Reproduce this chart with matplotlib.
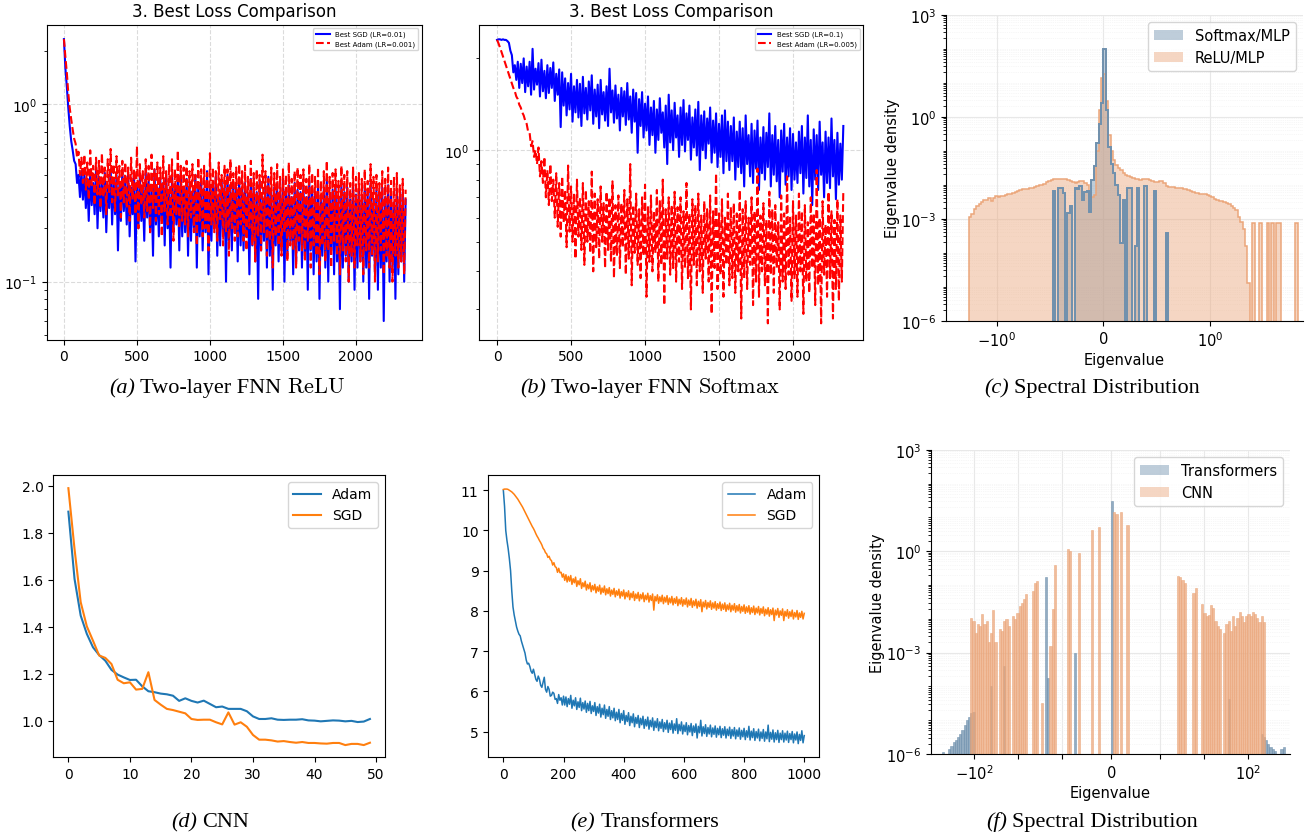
import numpy as np
import matplotlib
matplotlib.use("Agg")
import matplotlib.pyplot as plt
from matplotlib.patches import Patch
from matplotlib.ticker import LogLocator, NullFormatter, NullLocator
from matplotlib.colors import to_rgb

# ---------------- data ----------------
# (a)/(b): noisy loss read every 10 steps. "hi" = upper excursions at steps 0,20,40,...
# "lo" = lower excursions at steps 10,30,50,...
steps_ab = np.arange(0, 2341, 10)
relu_sgd_hi = [2.33, 1.25, 0.75, 0.55, 0.46, 0.40, 0.42,
               0.40, 0.38, 0.42, 0.36, 0.44, 0.39, 0.37, 0.41, 0.35, 0.43, 0.38, 0.40, 0.36, 0.42,
               0.37, 0.40, 0.34, 0.42, 0.36, 0.39, 0.33, 0.41, 0.37, 0.35, 0.43, 0.34, 0.38, 0.36, 0.40, 0.33, 0.39, 0.35, 0.37, 0.41,
               0.34, 0.38, 0.36, 0.32, 0.40, 0.35, 0.37, 0.33, 0.42, 0.34, 0.36, 0.39, 0.31, 0.37, 0.35, 0.40, 0.33, 0.36, 0.34, 0.38,
               0.33, 0.36, 0.31, 0.38, 0.34, 0.32, 0.37, 0.30, 0.35, 0.39, 0.32, 0.34, 0.36, 0.31, 0.38, 0.33, 0.35, 0.30, 0.36, 0.33,
               0.32, 0.35, 0.30, 0.37, 0.33, 0.31, 0.36, 0.29, 0.34, 0.38, 0.31, 0.33, 0.35, 0.30, 0.36, 0.32, 0.34, 0.29, 0.35, 0.31,
               0.33, 0.30, 0.35, 0.31, 0.36, 0.29, 0.33, 0.32, 0.34, 0.30, 0.35, 0.31, 0.28, 0.33, 0.30, 0.32, 0.29]
relu_sgd_lo = [1.6, 0.95, 0.62, 0.48, 0.36, 0.30, 0.29,
               0.26, 0.22, 0.27, 0.24, 0.20, 0.25, 0.23, 0.19, 0.26, 0.21, 0.24, 0.15, 0.22, 0.25,
               0.21, 0.18, 0.24, 0.13, 0.20, 0.22, 0.17, 0.23, 0.19, 0.14, 0.21, 0.18, 0.22, 0.16, 0.20, 0.12, 0.19, 0.21, 0.15, 0.18,
               0.19, 0.14, 0.17, 0.20, 0.12, 0.18, 0.15, 0.19, 0.11, 0.17, 0.20, 0.14, 0.16, 0.18, 0.10, 0.17, 0.15, 0.19, 0.13, 0.16,
               0.15, 0.18, 0.11, 0.16, 0.13, 0.08, 0.15, 0.17, 0.12, 0.14, 0.09, 0.16, 0.13, 0.15, 0.10, 0.14, 0.17, 0.11, 0.13, 0.15,
               0.12, 0.14, 0.09, 0.15, 0.11, 0.13, 0.08, 0.14, 0.12, 0.10, 0.15, 0.11, 0.13, 0.07, 0.12, 0.14, 0.10, 0.13, 0.09, 0.12,
               0.13, 0.10, 0.12, 0.08, 0.14, 0.11, 0.09, 0.12, 0.06, 0.13, 0.10, 0.12, 0.08, 0.11, 0.13, 0.10]
relu_adam_hi = [2.33, 1.5, 0.95, 0.72, 0.60, 0.54, 0.50,
                0.52, 0.47, 0.55, 0.45, 0.50, 0.48, 0.53, 0.44, 0.49, 0.56, 0.46, 0.51, 0.45, 0.48,
                0.47, 0.44, 0.50, 0.43, 0.58, 0.46, 0.42, 0.49, 0.45, 0.52, 0.43, 0.47, 0.44, 0.51, 0.42, 0.46, 0.49, 0.43, 0.55, 0.45,
                0.44, 0.48, 0.42, 0.46, 0.40, 0.50, 0.43, 0.45, 0.41, 0.53, 0.44, 0.42, 0.47, 0.40, 0.45, 0.43, 0.49, 0.41, 0.44, 0.46,
                0.42, 0.45, 0.39, 0.48, 0.41, 0.43, 0.40, 0.52, 0.42, 0.38, 0.44, 0.41, 0.46, 0.39, 0.43, 0.40, 0.47, 0.38, 0.42, 0.44,
                0.40, 0.43, 0.38, 0.46, 0.41, 0.39, 0.44, 0.37, 0.42, 0.48, 0.39, 0.41, 0.43, 0.37, 0.45, 0.40, 0.42, 0.36, 0.44, 0.39,
                0.41, 0.38, 0.43, 0.37, 0.46, 0.39, 0.40, 0.36, 0.42, 0.38, 0.44, 0.37, 0.39, 0.41, 0.35, 0.38, 0.33]
relu_adam_lo = [1.85, 1.15, 0.82, 0.64, 0.50, 0.40, 0.36,
                0.33, 0.29, 0.35, 0.27, 0.31, 0.26, 0.30, 0.24, 0.32, 0.28, 0.25, 0.30, 0.23, 0.28,
                0.26, 0.22, 0.29, 0.24, 0.20, 0.27, 0.23, 0.25, 0.19, 0.26, 0.22, 0.24, 0.18, 0.25, 0.21, 0.23, 0.17, 0.24, 0.20, 0.22,
                0.21, 0.18, 0.23, 0.19, 0.16, 0.22, 0.18, 0.20, 0.15, 0.21, 0.19, 0.17, 0.22, 0.16, 0.19, 0.14, 0.20, 0.17, 0.18, 0.21,
                0.17, 0.15, 0.20, 0.16, 0.13, 0.18, 0.15, 0.19, 0.14, 0.17, 0.12, 0.18, 0.16, 0.14, 0.19, 0.13, 0.16, 0.15, 0.12, 0.17,
                0.15, 0.13, 0.17, 0.12, 0.16, 0.14, 0.11, 0.16, 0.13, 0.15, 0.12, 0.17, 0.14, 0.11, 0.15, 0.13, 0.10, 0.14, 0.12, 0.16,
                0.13, 0.11, 0.15, 0.12, 0.14, 0.10, 0.13, 0.15, 0.11, 0.14, 0.12, 0.10, 0.14, 0.12, 0.13, 0.11]

soft_sgd_hi = [2.30, 2.31, 2.31, 2.30, 2.25,
               2.05, 1.90, 1.95,
               1.92, 2.00, 1.88, 1.95, 2.15, 1.85, 1.93, 1.98, 1.82, 1.90, 1.86, 1.94, 1.78, 1.84, 1.80,
               1.72, 1.66, 1.78, 1.62, 1.70, 1.65, 1.74, 1.60, 1.68, 1.76, 1.58, 1.64, 1.70, 1.55, 1.62, 1.85, 1.57, 1.63, 1.52, 1.60,
               1.56, 1.66, 1.50, 1.58, 1.54, 1.47, 1.55,
               1.42, 1.50, 1.38, 1.45, 1.36, 1.48, 1.33, 1.40, 1.52, 1.35, 1.43, 1.30, 1.38, 1.46, 1.32, 1.40, 1.28, 1.36, 1.44, 1.30,
               1.34, 1.27, 1.38, 1.25, 1.32, 1.22, 1.30, 1.35, 1.24,
               1.20, 1.28, 1.15, 1.24, 1.18, 1.30, 1.12, 1.22, 1.16, 1.25, 1.10, 1.19, 1.14, 1.32, 1.12, 1.20, 1.08, 1.16, 1.22, 1.10,
               1.18, 1.13, 1.06,
               1.15, 1.20, 1.10, 1.30, 1.08, 1.17, 1.12, 1.24, 1.06, 1.15, 1.10, 1.27, 1.08, 1.14, 1.05, 1.20]
soft_sgd_lo = [2.31, 2.30, 2.30, 2.28,
               2.12, 1.80, 1.70,
               1.60, 1.66, 1.55, 1.62, 1.52, 1.58, 1.64, 1.50, 1.56, 1.48, 1.54, 1.60, 1.45, 1.52, 1.19,
               1.40, 1.30, 1.36, 1.24, 1.33, 1.28, 1.20, 1.32, 1.26, 1.35, 1.22, 1.29, 1.18, 1.31, 1.25, 1.20, 1.33, 1.23, 1.27, 1.16,
               1.29, 1.21, 1.26, 1.14, 1.24, 0.98, 1.20,
               1.10, 1.16, 1.04, 1.12, 0.98, 1.08, 1.14, 1.02, 0.90, 1.06, 1.00, 1.10, 0.95, 1.04, 0.99, 1.08, 0.93, 1.02, 0.96, 0.86,
               1.00, 0.94, 1.05, 0.91, 0.98, 0.88, 0.95, 0.84, 0.92,
               0.86, 0.92, 0.80, 0.88, 0.84, 0.76, 0.90, 0.82, 0.78, 0.87, 0.74, 0.84, 0.80, 0.88, 0.76, 0.83, 0.79, 0.70, 0.85, 0.77,
               0.82, 0.74, 0.80,
               0.78, 0.84, 0.72, 0.81, 0.76, 0.66, 0.80, 0.74, 0.83, 0.70, 0.78, 0.75, 0.82, 0.69, 0.77, 0.80]
soft_adam_hi = [2.30, 2.17, 2.03, 1.90, 1.77, 1.66, 1.56, 1.47, 1.38, 1.30, 1.22,
                1.14, 1.07, 1.00, 1.02, 0.92, 0.95, 0.86, 0.90, 0.80, 0.84,
                0.78, 0.82, 0.74, 0.89, 0.76, 0.72, 0.80, 0.70, 0.78, 0.74, 0.68, 0.85, 0.72, 0.69, 0.76, 0.67, 0.73, 0.70, 0.79, 0.66,
                0.71, 0.67, 0.74, 0.69, 0.90, 0.66, 0.72, 0.64, 0.70, 0.77, 0.65, 0.71, 0.63, 0.74, 0.68, 0.80, 0.64, 0.70, 0.66, 0.73,
                0.65, 0.70, 0.63, 0.78, 0.62, 0.69, 0.66, 0.72, 0.61, 0.68, 0.64, 0.71, 0.63, 0.84, 0.62, 0.69, 0.60, 0.72, 0.65, 0.67,
                0.62, 0.74, 0.64, 0.68, 0.60, 0.70, 0.63, 0.87, 0.61, 0.67, 0.59, 0.73, 0.64, 0.66, 0.58, 0.71, 0.62, 0.82, 0.60, 0.68,
                0.61, 0.72, 0.63, 0.66, 0.58, 0.70, 0.62, 0.86, 0.60, 0.68, 0.57, 0.73, 0.63, 0.59, 0.69, 0.61, 0.74]
soft_adam_lo = [2.24, 2.10, 1.96, 1.83, 1.71, 1.60, 1.50, 1.41, 1.33, 1.25,
                1.15, 1.03, 0.95, 0.90, 0.82, 0.78, 0.70, 0.66, 0.68, 0.60,
                0.56, 0.52, 0.58, 0.48, 0.54, 0.50, 0.44, 0.52, 0.47, 0.42, 0.50, 0.46, 0.40, 0.48, 0.44, 0.50, 0.41, 0.47, 0.43, 0.38,
                0.45, 0.41, 0.48, 0.39, 0.44, 0.36, 0.46, 0.42, 0.38, 0.45, 0.33, 0.43, 0.40, 0.46, 0.37, 0.42, 0.31, 0.44, 0.39, 0.41,
                0.37, 0.43, 0.35, 0.41, 0.38, 0.30, 0.42, 0.36, 0.40, 0.34, 0.44, 0.37, 0.29, 0.41, 0.35, 0.39, 0.33, 0.42, 0.36, 0.38,
                0.34, 0.40, 0.28, 0.38, 0.35, 0.42, 0.31, 0.37, 0.33, 0.40, 0.36, 0.27, 0.39, 0.34, 0.41, 0.30, 0.37, 0.35, 0.39, 0.32,
                0.38, 0.33, 0.40, 0.29, 0.37, 0.34, 0.41, 0.31, 0.36, 0.27, 0.39, 0.33, 0.38, 0.28, 0.35, 0.32, 0.37]

# (d) CNN loss per epoch
epochs = np.arange(50)
cnn_adam = [1.889, 1.603, 1.447, 1.369, 1.312, 1.279, 1.255, 1.216, 1.196, 1.184,
            1.173, 1.174, 1.146, 1.125, 1.121, 1.115, 1.112, 1.106, 1.084, 1.095,
            1.084, 1.077, 1.085, 1.071, 1.057, 1.060, 1.050, 1.050, 1.050, 1.040,
            1.018, 1.007, 1.007, 1.010, 1.004, 1.003, 1.004, 1.004, 1.006, 1.001,
            1.000, 0.997, 0.999, 1.001, 1.000, 0.997, 0.999, 0.994, 0.996, 1.007]
cnn_sgd = [1.989, 1.730, 1.504, 1.401, 1.340, 1.277, 1.267, 1.241, 1.174, 1.159,
           1.163, 1.132, 1.135, 1.206, 1.088, 1.068, 1.050, 1.045, 1.038, 1.031,
           1.007, 1.003, 1.004, 1.004, 0.993, 0.984, 1.035, 0.983, 0.993, 0.974,
           0.939, 0.919, 0.919, 0.916, 0.911, 0.913, 0.909, 0.906, 0.909, 0.905,
           0.905, 0.903, 0.902, 0.905, 0.905, 0.896, 0.901, 0.901, 0.896, 0.906]

# (e) Transformers loss read every 4 steps: "hi" at steps 0,8,16,... and "lo" at 4,12,20,...
steps_e = np.arange(0, 1001, 4)
tr_adam_hi = [11.0, 10.0, 9.55, 9.0, 8.1, 7.75, 7.5, 7.38, 7.15, 6.95, 6.68, 6.62, 6.45, 6.42, 6.25, 6.30,
              6.10, 6.35, 5.98, 6.05, 5.90, 5.95, 5.82, 5.92, 5.84, 5.88,
              5.86, 5.82, 5.90, 5.78, 5.84, 5.74, 5.83, 5.72, 5.76, 5.70,
              5.75, 5.64, 5.72, 5.62, 5.68, 5.58, 5.66, 5.55, 5.62, 5.52,
              5.58, 5.48, 5.55, 5.45, 5.52, 5.40, 5.47, 5.38, 5.44, 5.35,
              5.40, 5.33, 5.38, 5.30, 5.36, 5.28, 5.34, 5.26, 5.32, 5.24,
              5.30, 5.22, 5.28, 5.21, 5.27, 5.19, 5.32, 5.18, 5.24, 5.16,
              5.22, 5.15, 5.20, 5.14, 5.19, 5.13, 5.28, 5.12, 5.17, 5.10,
              5.16, 5.09, 5.14, 5.08, 5.13, 5.07, 5.12, 5.06, 5.11, 5.05,
              5.10, 5.04, 5.09, 5.03, 5.08, 5.02, 5.13, 5.01, 5.07, 5.00,
              5.06, 4.99, 5.05, 4.99, 5.16, 4.98, 5.04, 4.97, 5.03, 4.96,
              5.02, 4.96, 5.01, 4.95, 5.00, 4.94, 4.99, 4.93, 5.02, 4.90]
tr_adam_lo = [10.6, 9.75, 9.3, 8.5, 7.9, 7.6, 7.42, 7.25, 7.05, 6.78, 6.70, 6.50, 6.55, 6.30, 6.38, 6.15,
              6.22, 6.05, 6.12, 5.88, 5.98, 5.80, 5.70, 5.78, 5.66,
              5.66, 5.62, 5.68, 5.58, 5.64, 5.55, 5.60, 5.52, 5.56, 5.48,
              5.52, 5.45, 5.50, 5.40, 5.46, 5.36, 5.42, 5.33, 5.38, 5.30,
              5.34, 5.27, 5.30, 5.22, 5.28, 5.18, 5.25, 5.15, 5.22, 5.12,
              5.20, 5.10, 5.17, 5.08, 5.14, 5.06, 5.12, 5.03, 5.10, 5.02,
              5.08, 5.00, 5.06, 4.98, 5.05, 4.96, 5.03, 4.95, 5.02, 4.94,
              5.00, 4.92, 4.99, 4.90, 4.98, 4.84, 4.97, 4.89, 4.95, 4.88,
              4.94, 4.87, 4.93, 4.86, 4.92, 4.85, 4.91, 4.84, 4.90, 4.83,
              4.89, 4.82, 4.88, 4.81, 4.87, 4.80, 4.86, 4.79, 4.85, 4.78,
              4.84, 4.77, 4.83, 4.76, 4.82, 4.75, 4.81, 4.74, 4.80, 4.73,
              4.80, 4.74, 4.79, 4.73, 4.80, 4.72, 4.79, 4.70, 4.78, 4.72]
tr_sgd_hi = [11.02, 11.03, 11.02, 10.98, 10.93, 10.86, 10.78, 10.68, 10.58, 10.46, 10.34, 10.22, 10.10,
             9.99, 9.86, 9.75, 9.64, 9.52, 9.42, 9.36, 9.25, 9.20, 9.08, 9.06, 8.96, 8.92,
             8.90, 8.86, 8.88, 8.80, 8.84, 8.75, 8.80, 8.70, 8.74, 8.66,
             8.70, 8.63, 8.66, 8.60, 8.64, 8.57, 8.62, 8.55, 8.58, 8.52,
             8.56, 8.50, 8.54, 8.48, 8.52, 8.46, 8.50, 8.44, 8.48, 8.42,
             8.46, 8.41, 8.45, 8.39, 8.44, 8.38, 8.42, 8.36, 8.40, 8.35,
             8.39, 8.34, 8.38, 8.32, 8.36, 8.31, 8.35, 8.29, 8.33, 8.28,
             8.32, 8.27, 8.31, 8.25, 8.29, 8.24, 8.28, 8.22, 8.26, 8.21,
             8.25, 8.20, 8.23, 8.18, 8.22, 8.17, 8.20, 8.15, 8.19, 8.14,
             8.18, 8.13, 8.16, 8.11, 8.15, 8.10, 8.13, 8.08, 8.12, 8.07,
             8.11, 8.06, 8.10, 8.04, 8.08, 8.03, 8.07, 8.02, 8.06, 8.00,
             8.05, 7.99, 8.03, 7.98, 8.02, 7.96, 8.01, 7.95, 7.99, 7.94]
tr_sgd_lo = [11.03, 11.03, 11.00, 10.96, 10.90, 10.82, 10.73, 10.63, 10.52, 10.40, 10.28, 10.16, 10.05,
             9.92, 9.81, 9.70, 9.56, 9.45, 9.33, 9.28, 9.14, 9.10, 8.96, 8.95, 8.84,
             8.76, 8.72, 8.74, 8.66, 8.70, 8.61, 8.65, 8.56, 8.60, 8.52,
             8.55, 8.48, 8.52, 8.45, 8.49, 8.42, 8.46, 8.40, 8.43, 8.37,
             8.41, 8.35, 8.39, 8.32, 8.37, 8.30, 8.35, 8.28, 8.33, 8.26,
             8.31, 8.25, 8.30, 8.23, 8.28, 8.22, 8.26, 8.02, 8.25, 8.19,
             8.23, 8.18, 8.22, 8.16, 8.20, 8.15, 8.19, 8.13, 8.17, 8.12,
             8.16, 8.10, 8.14, 8.09, 8.13, 8.07, 8.11, 7.98, 8.10, 8.05,
             8.09, 8.04, 8.07, 8.02, 8.06, 8.01, 8.04, 7.99, 8.03, 7.98,
             8.02, 7.97, 8.00, 7.95, 7.99, 7.94, 7.97, 7.92, 7.96, 7.91,
             7.95, 7.90, 7.94, 7.88, 7.92, 7.87, 7.91, 7.76, 7.90, 7.84,
             7.89, 7.76, 7.87, 7.82, 7.86, 7.80, 7.85, 7.79, 7.84, 7.80]

# (c) spectral histogram, log10 density per bin (None = empty bin)
c_bin_start, c_bin_step = -1.40, 0.025      # bin edges in symlog display units
relu_mlp_log = [-2.95, -2.85, -2.70, -2.62, -2.58, -2.52, -2.45, -2.44, -2.40, -2.47,
                -2.38, -2.34, -2.36, -2.33, -2.32, -2.30, -2.27, -2.26, -2.24, -2.22,
                -2.18, -2.15, -2.14, -2.13, -2.12, -2.10, -2.09, -2.08, -2.05, -2.02,
                -2.00, -1.97, -1.93, -1.88, -1.86, -1.84, -1.83, -1.82, -1.82, -1.83,
                -1.84, -1.85, -1.88, -1.92, -1.95, -1.93, -1.90, -1.90, -1.95, -2.02,
                -2.22, -2.36, -2.30, -1.00, 0.20, 1.15, 1.25, 0.45, -0.55, -1.00,
                -1.28, -1.42, -1.50, -1.58, -1.65, -1.70, -1.74, -1.78, -1.80, -1.82,
                -1.84, -1.85, -1.83, -1.82, -1.84, -1.86, -1.90, -1.93, -1.93, -1.88,
                -1.88, -1.95, -2.05, -2.07, -2.08, -2.08, -2.09, -2.10, -2.11, -2.13,
                -2.14, -2.16, -2.18, -2.20, -2.23, -2.24, -2.26, -2.27, -2.28, -2.30,
                -2.33, -2.37, -2.41, -2.44, -2.47, -2.49, -2.52, -2.55, -2.58, -2.62,
                -2.68, -2.73, -2.95, -3.10, -3.30, -3.80, -4.90, None, -3.12, None,
                None, -3.12, None, None, -3.12, None, -3.12, None, -3.12, -3.12,
                None, None, None, None, None, None, -3.12]
softmax_mlp_log = [None] * 35 + [
    -2.19, None, -2.09, -2.09, -2.24, None, -2.83, -2.63, None, -2.09,
    -2.14, -2.04, -2.44, -2.20, -2.19, -2.80, -1.85, -1.45, -0.77, -0.20,
    0.40, 1.98, 0.20, -0.90, -1.40, -1.65, -2.00, -2.30, -3.70, -2.44,
    None, -2.09, -2.09, None, -3.80, -2.09, None, None, -2.04, None,
    None, None, -2.19, None, None, None, None, -3.42] + [None] * 54

# (f) spectral histogram
f_bin_start, f_bin_step = -3.85, 0.05
transformers_log = [-5.95, None, None, -5.85, -5.75, -5.65, -5.60, -5.50, -5.40, -5.30,
                    -5.15, -5.00, -4.90, -4.80, -4.75] + [None] * 7 + [-3.98] + [None] * 5 + [-3.40] \
    + [None] * 18 + [-0.76, -3.74] + [None] * 11 + [-3.00] + [None] * 16 + [1.47] + [None] * 52 \
    + [-4.38] + [None] * 14 + [-5.40, -5.50, -5.60, -5.70, -5.80, -5.85, -5.90, None, None, -5.85, -5.80]
cnn_log = [None] * 13 + [
    -1.97, -2.06, -2.41, -2.16, -2.21, -1.87, -2.16, -2.06, -2.70, -2.41,
    -1.74, -2.70, None, -2.31, -2.36, -2.06, -2.02, -2.21, None, -1.92,
    -2.02, -1.82, -1.62, -1.52, -1.43, -1.28, None, None, -1.18, -0.93,
    -0.88, None, -4.50, None, None, None, -2.80, -1.72, -0.42, None,
    None, None, None, None, 0.07, 0.00, None, None, None, -0.05,
    None, None, None, None, None, 0.62, None, None, 0.72, None,
    None, None, None, None, None, 1.15, 1.10, None, 1.15, None,
    None, 0.76] + [None] * 22 + [
    -0.74, -0.76, -0.84, -0.93, None, None, None, -1.23, -1.10, None,
    None, -1.57, -1.84, -1.92, -1.90, -1.60, -1.67, -2.06, -2.21, -2.31,
    None, -2.41, -2.16, -2.06, -2.36, -1.92, -2.21, -1.97, -1.80, -1.92,
    -2.09, -1.92, -1.87, -1.92, -1.80, -1.87, -1.97, -2.09, -1.92, -2.09] + [None] * 9


def interleave(first, second):
    out = np.empty(len(first) + len(second))
    out[0::2] = first
    out[1::2] = second
    return out


relu_sgd = interleave(relu_sgd_hi, relu_sgd_lo)
relu_adam = interleave(relu_adam_hi, relu_adam_lo)
soft_sgd = interleave(soft_sgd_hi, soft_sgd_lo)
soft_adam = interleave(soft_adam_hi, soft_adam_lo)
tr_adam = interleave(tr_adam_hi, tr_adam_lo)
tr_sgd = interleave(tr_sgd_hi, tr_sgd_lo)

# ---------------- figure ----------------
W, H = 1307, 837
fig = plt.figure(figsize=(W / 100, H / 100), dpi=100)


def rect(x0, y0, x1, y1):
    return [x0 / W, 1 - y1 / H, (x1 - x0) / W, (y1 - y0) / H]


def loss_panel(r, s_vals, a_vals, s_lab, a_lab, ylim, xlim):
    ax = fig.add_axes(r)
    ax.plot(steps_ab, s_vals, color="blue", lw=1.5, label=s_lab)
    ax.plot(steps_ab, a_vals, color="red", lw=1.5, ls="--", label=a_lab)
    ax.set_yscale("log")
    ax.set_ylim(*ylim)
    ax.set_xlim(*xlim)
    ax.yaxis.set_minor_formatter(NullFormatter())
    ax.grid(True, which="major", ls="--", color="#b0b0b0", alpha=0.45, lw=0.8)
    ax.set_title("3. Best Loss Comparison", fontsize=12)
    ax.legend(loc="upper right", fontsize=5)
    ax.tick_params(labelsize=10)
    return ax


loss_panel(rect(46.7, 25.7, 421.7, 340.5), relu_sgd, relu_adam,
           "Best SGD (LR=0.01)", "Best Adam (LR=0.001)", (0.0472, 2.81), (-118, 2450))
loss_panel(rect(479.3, 25.7, 863.3, 340.5), soft_sgd, soft_adam,
           "Best SGD (LR=0.1)", "Best Adam (LR=0.005)", (0.239, 2.58), (-120, 2475))

# (d)
axD = fig.add_axes(rect(53.3, 476, 385, 758.3))
axD.plot(epochs, cnn_adam, color="#1f77b4", lw=1.5, label="Adam")
axD.plot(epochs, cnn_sgd, color="#ff7f0e", lw=1.5, label="SGD")
axD.set_xlim(-2.45, 51.45)
axD.set_ylim(0.844, 2.045)
axD.legend(loc="upper right", fontsize=10)
axD.tick_params(labelsize=10)

# (e)
axE = fig.add_axes(rect(488.3, 476, 819.3, 758.3))
axE.plot(steps_e, tr_adam, color="#1f77b4", lw=1.1, label="Adam")
axE.plot(steps_e, tr_sgd, color="#ff7f0e", lw=1.1, label="SGD")
axE.set_xlim(-50, 1050)
axE.set_ylim(4.36, 11.38)
axE.legend(loc="upper right", fontsize=10)
axE.tick_params(labelsize=10)

BLUE = "#6f90ad"
ORANGE = "#eba67a"
FLOOR = 1e-12


def to_dens(logs):
    return np.array([10.0 ** v if v is not None else FLOOR for v in logs])


def spectral_axes(r, linthresh):
    ax = fig.add_axes(r)
    ax.set_xscale("symlog", linthresh=linthresh, linscale=1.0)
    ax.set_yscale("log")
    ax.set_axisbelow(True)
    for s in ("top", "right"):
        ax.spines[s].set_visible(False)
    ax.grid(True, which="major", color="#e8e8e8", lw=0.8)
    ax.grid(True, which="minor", axis="y", color="#efefef", lw=0.5, ls=":")
    ax.set_ylim(1e-6, 1e3)
    ax.set_yticks([1e-6, 1e-3, 1e0, 1e3])
    ax.yaxis.set_minor_locator(LogLocator(base=10, subs=np.arange(1, 10), numticks=200))
    ax.yaxis.set_minor_formatter(NullFormatter())
    ax.tick_params(labelsize=10.5)
    ax.set_xlabel("Eigenvalue", fontsize=10.5, labelpad=2)
    ax.set_ylabel("Eigenvalue density", fontsize=10.5, labelpad=1)
    return ax


def edges_for(ax, start, step, n):
    u = start + step * np.arange(n + 1)
    inv = ax.xaxis.get_transform().inverted()
    return inv.transform(u.reshape(-1, 1)).ravel()


# (c)
axC = spectral_axes(rect(946, 15.7, 1303, 321.7), 1.0)
ec = edges_for(axC, c_bin_start, c_bin_step, len(relu_mlp_log))
d_soft = to_dens(softmax_mlp_log)
d_relu = to_dens(relu_mlp_log)
axC.stairs(d_soft, ec, baseline=FLOOR, fill=True, facecolor=(*to_rgb(BLUE), 0.45), edgecolor="none")
axC.stairs(d_relu, ec, baseline=FLOOR, fill=True, facecolor=(*to_rgb(ORANGE), 0.45), edgecolor="none")
axC.stairs(d_relu, ec, baseline=FLOOR, fill=False, color=ORANGE, lw=1.1)
axC.stairs(d_soft, ec, baseline=FLOOR, fill=False, color=BLUE, lw=1.4)
axC.set_xlim(-3.37, 9.3)
axC.set_xticks([-1, 0, 1])
axC.xaxis.set_minor_locator(NullLocator())
axC.legend(handles=[Patch(facecolor=BLUE, alpha=0.45, edgecolor="none", label="Softmax/MLP"),
                    Patch(facecolor=ORANGE, alpha=0.45, edgecolor="none", label="ReLU/MLP")],
           loc="upper right", fontsize=10.5)

# (f)
axF = spectral_axes(rect(931, 450.7, 1290, 755), 1.0)
ef = edges_for(axF, f_bin_start, f_bin_step, len(cnn_log))
for logs, col in ((transformers_log, BLUE), (cnn_log, ORANGE)):
    d = to_dens(logs)
    m = d > FLOOR
    axF.bar(ef[:-1][m], d[m], width=np.diff(ef)[m], bottom=FLOOR, align="edge",
            facecolor=(*to_rgb(col), 0.75), edgecolor=(*to_rgb(col), 0.9), lw=0.4)
axF.set_xlim(-953, 906)
axF.set_xticks([-100, -10, -1, 0, 1, 10, 100],
               [r"$\mathdefault{-10^{2}}$", "", "", r"$\mathdefault{0}$", "", "", r"$\mathdefault{10^{2}}$"])
axF.xaxis.set_minor_locator(NullLocator())
axF.legend(handles=[Patch(facecolor=BLUE, alpha=0.45, edgecolor="none", label="Transformers"),
                    Patch(facecolor=ORANGE, alpha=0.45, edgecolor="none", label="CNN")],
           loc="upper right", fontsize=10.5)

# ---------------- captions ----------------
CAP = 16
renderer = fig.canvas.get_renderer()


def caption(xc, ybase, parts):
    texts = [fig.text(0, 1 - ybase / H, s, va="baseline", ha="left", **kw) for s, kw in parts]
    widths = [t.get_window_extent(renderer).width for t in texts]
    gap = 5.5
    total = sum(widths) + gap * (len(texts) - 1)
    x = xc - total / 2
    for t, w in zip(texts, widths):
        t.set_x(x / W)
        x += w + gap


ital = dict(family="Liberation Serif", style="italic", fontsize=CAP)
rom = dict(family="Liberation Serif", fontsize=CAP)
cm = dict(fontsize=CAP, math_fontfamily="cm")

caption(227, 393, [("(a)", ital), ("Two-layer FNN", rom), (r"$\mathrm{ReLU}$", cm)])
caption(650, 393, [("(b)", ital), ("Two-layer FNN", rom), (r"$\mathrm{Softmax}$", cm)])
caption(1092, 393, [("(c)", ital), ("Spectral Distribution", rom)])
caption(210, 827, [("(d)", ital), ("CNN", rom)])
caption(645, 827, [("(e)", ital), ("Transformers", rom)])
caption(1092, 827, [("(f)", ital), ("Spectral Distribution", rom)])

fig.savefig("out.png", dpi=100)
